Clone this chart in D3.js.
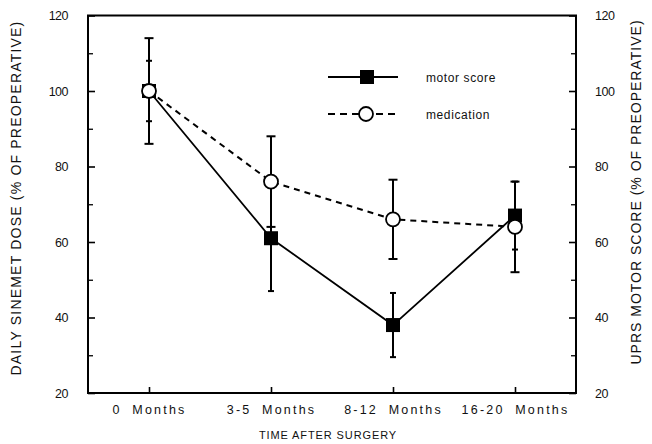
<!DOCTYPE html>
<html><head><meta charset="utf-8">
<script src="https://cdn.jsdelivr.net/npm/d3@7"></script>
<style>
body{margin:0;background:#fff;}
text{font-family:"Liberation Sans",Arial,Helvetica,sans-serif;fill:#111;}
</style></head>
<body><svg id="c" width="652" height="444"></svg>
<script>
const categories = ["0 Months","3-5 Months","8-12 Months","16-20 Months"];
const motorScore = [100, 61, 38, 67];
const motorErr = [8, 14, 8.5, 9];
const medication = [100, 76, 66, 64];
const medicationErr = [14, 12, 10.5, 12];
const yTicks = [20, 40, 60, 80, 100, 120];
const yMinorTicks = [30, 50, 70, 90, 110];

const svg = d3.select("#c");
const L = 88, R = 576, T = 15.5, B = 393;
const x = d3.scalePoint().domain(categories).range([L, R]).padding(0.5);
const y = d3.scaleLinear().domain([20, 120]).range([B, T]);

// frame
svg.append("rect").attr("x", L).attr("y", T).attr("width", R - L).attr("height", B - T)
  .attr("fill", "none").attr("stroke", "#000").attr("stroke-width", 2);

// left axis
const leftAx = d3.axisLeft(y).tickValues(yTicks).tickSizeInner(-7).tickSizeOuter(0).tickPadding(20);
const gl = svg.append("g").attr("transform", `translate(${L},0)`).call(leftAx);
gl.select(".domain").remove();
gl.selectAll(".tick line").attr("stroke-width", 1.6);
gl.selectAll(".tick text").attr("font-size", 12.5).attr("font-family", "Liberation Sans, Arial").attr("fill", "#111").attr("letter-spacing", -0.5);
const glm = svg.append("g").attr("transform", `translate(${L},0)`)
  .call(d3.axisLeft(y).tickValues(yMinorTicks).tickSizeInner(-5).tickSizeOuter(0).tickFormat(""));
glm.select(".domain").remove();
glm.selectAll(".tick line").attr("stroke-width", 1.3);

// right axis
const rightAx = d3.axisRight(y).tickValues(yTicks).tickSizeInner(-7).tickSizeOuter(0).tickPadding(19);
const gr = svg.append("g").attr("transform", `translate(${R},0)`).call(rightAx);
gr.select(".domain").remove();
gr.selectAll(".tick line").attr("stroke-width", 1.6);
gr.selectAll(".tick text").attr("font-size", 12.5).attr("font-family", "Liberation Sans, Arial").attr("fill", "#111").attr("letter-spacing", -0.5);
const grm = svg.append("g").attr("transform", `translate(${R},0)`)
  .call(d3.axisRight(y).tickValues(yMinorTicks).tickSizeInner(-5).tickSizeOuter(0).tickFormat(""));
grm.select(".domain").remove();
grm.selectAll(".tick line").attr("stroke-width", 1.3);

// bottom axis
const bottomAx = d3.axisBottom(x).tickSizeInner(-6).tickSizeOuter(0).tickPadding(12);
const gb = svg.append("g").attr("transform", `translate(0,${B})`).call(bottomAx);
gb.select(".domain").remove();
gb.selectAll(".tick line").attr("stroke-width", 1.6);
gb.selectAll(".tick text").attr("font-size", 12.5).attr("font-family", "Liberation Sans, Arial").attr("fill", "#111").attr("letter-spacing", 2.2).attr("word-spacing", 5);

// axis titles
svg.append("text").attr("x", 328).attr("y", 439).attr("text-anchor", "middle")
  .attr("font-size", 11).attr("letter-spacing", 0.9).text("TIME AFTER SURGERY");
svg.append("text").attr("transform", "translate(21,198) rotate(-90)").attr("text-anchor", "middle")
  .attr("font-size", 14).attr("letter-spacing", 1.2).text("DAILY SINEMET DOSE (% OF PREOPERATIVE)");
svg.append("text").attr("transform", "translate(641,192) rotate(-90)").attr("text-anchor", "middle")
  .attr("font-size", 14).attr("letter-spacing", 1.0).text("UPRS MOTOR SCORE (% OF PREOPERATIVE)");

// error bars
function errBars(vals, errs, cap) {
  const g = svg.append("g").attr("stroke", "#000").attr("stroke-width", 2);
  categories.forEach((c, i) => {
    const cx = x(c), lo = y(vals[i] - errs[i]), hi = y(vals[i] + errs[i]);
    g.append("line").attr("x1", cx).attr("x2", cx).attr("y1", lo).attr("y2", hi);
    g.append("line").attr("x1", cx - cap).attr("x2", cx + cap).attr("y1", lo).attr("y2", lo);
    g.append("line").attr("x1", cx - cap).attr("x2", cx + cap).attr("y1", hi).attr("y2", hi);
  });
}
errBars(medication, medicationErr, 4.5);
errBars(motorScore, motorErr, 3);

// lines
const line = d3.line().x((d, i) => x(categories[i])).y(d => y(d));
svg.append("path").datum(medication).attr("d", line).attr("fill", "none")
  .attr("stroke", "#000").attr("stroke-width", 2).attr("stroke-dasharray", "6,5");
svg.append("path").datum(motorScore).attr("d", line).attr("fill", "none")
  .attr("stroke", "#000").attr("stroke-width", 1.8);

// markers
const S = 14;
svg.append("g").selectAll("rect").data(motorScore).join("rect")
  .attr("x", (d, i) => x(categories[i]) - S / 2).attr("y", d => y(d) - S / 2)
  .attr("width", S).attr("height", S).attr("fill", "#000");
svg.append("g").selectAll("circle").data(medication).join("circle")
  .attr("cx", (d, i) => x(categories[i])).attr("cy", d => y(d)).attr("r", 7)
  .attr("fill", "#fff").attr("stroke", "#000").attr("stroke-width", 1.8);

// legend
const lg = svg.append("g");
lg.append("line").attr("x1", 328).attr("x2", 398).attr("y1", 77).attr("y2", 77)
  .attr("stroke", "#000").attr("stroke-width", 1.8);
lg.append("rect").attr("x", 360).attr("y", 70).attr("width", S).attr("height", S).attr("fill", "#000");
lg.append("text").attr("x", 426).attr("y", 82).attr("font-size", 12).attr("letter-spacing", 0.6).text("motor score");
lg.append("line").attr("x1", 328).attr("x2", 395).attr("y1", 114).attr("y2", 114)
  .attr("stroke", "#000").attr("stroke-width", 2).attr("stroke-dasharray", "7,5");
lg.append("circle").attr("cx", 366).attr("cy", 114).attr("r", 7)
  .attr("fill", "#fff").attr("stroke", "#000").attr("stroke-width", 1.8);
lg.append("text").attr("x", 426).attr("y", 119).attr("font-size", 12).attr("letter-spacing", 0.6).text("medication");
</script></body></html>
